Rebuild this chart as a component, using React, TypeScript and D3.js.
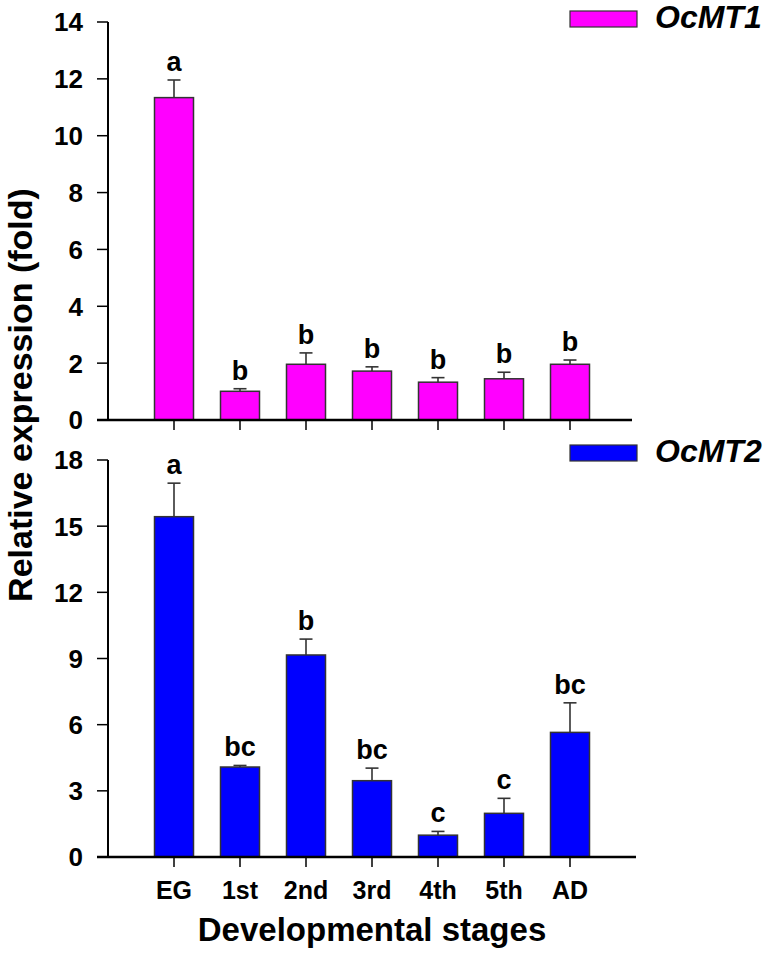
import React from "react";
import * as d3 from "d3";

const categories = ["EG", "1st", "2nd", "3rd", "4th", "5th", "AD"];
const mt1Values = [11.34, 1.01, 1.96, 1.72, 1.33, 1.45, 1.96];
const mt1Errors = [0.62, 0.09, 0.4, 0.15, 0.16, 0.23, 0.15];
const mt1Letters = ["a", "b", "b", "b", "b", "b", "b"];
const mt2Values = [15.43, 4.08, 9.16, 3.46, 0.99, 1.98, 5.65];
const mt2Errors = [1.52, 0.07, 0.72, 0.57, 0.17, 0.68, 1.34];
const mt2Letters = ["a", "bc", "b", "bc", "c", "c", "bc"];
const mt1Ticks = [0, 2, 4, 6, 8, 10, 12, 14];
const mt2Ticks = [0, 3, 6, 9, 12, 15, 18];

const FONT = "Liberation Sans, Arial, Helvetica, sans-serif";

const x = d3.scalePoint<string>().domain(categories).range([108, 636]).padding(1);
const yTop = d3.scaleLinear().domain([0, 14]).range([420, 22]);
const yBot = d3.scaleLinear().domain([0, 18]).range([857, 460]);

const BAR_W = 39;

function Panel({
  y,
  values,
  errors,
  letters,
  ticks,
  color,
  axisEnd,
  legendName,
  legendY,
}: {
  y: d3.ScaleLinear<number, number>;
  values: number[];
  errors: number[];
  letters: string[];
  ticks: number[];
  color: string;
  axisEnd: number;
  legendName: string;
  legendY: number;
}) {
  const y0 = y(0);
  const yMax = y(ticks[ticks.length - 1]);
  return (
    <g>
      {categories.map((c, i) => {
        const cx = x(c)!;
        const top = y(values[i]);
        const errTop = y(values[i] + errors[i]);
        return (
          <g key={c}>
            <line x1={cx} x2={cx} y1={top} y2={errTop} stroke="#333" strokeWidth={1.6} />
            <line x1={cx - 6.5} x2={cx + 6.5} y1={errTop} y2={errTop} stroke="#333" strokeWidth={1.6} />
            <rect
              x={cx - BAR_W / 2}
              y={top}
              width={BAR_W}
              height={y0 - top}
              fill={color}
              stroke="#333"
              strokeWidth={1.5}
            />
            <text
              x={cx}
              y={errTop - 9}
              textAnchor="middle"
              fontFamily={FONT}
              fontWeight="bold"
              fontSize={27}
              fill="#000"
            >
              {letters[i]}
            </text>
            <line x1={cx} x2={cx} y1={y0} y2={y0 + 10} stroke="#000" strokeWidth={1.5} />
          </g>
        );
      })}
      <line x1={108} x2={108} y1={yMax} y2={y0} stroke="#000" strokeWidth={2} />
      {ticks.map((t) => (
        <g key={t}>
          <line x1={97} x2={108} y1={y(t)} y2={y(t)} stroke="#000" strokeWidth={1.5} />
          <text
            x={83}
            y={y(t)}
            dy="0.36em"
            textAnchor="end"
            fontFamily={FONT}
            fontWeight="bold"
            fontSize={26}
            fill="#000"
          >
            {t}
          </text>
        </g>
      ))}
      <line x1={97} x2={axisEnd} y1={y0} y2={y0} stroke="#000" strokeWidth={2.5} />
      <rect x={570} y={legendY} width={67} height={16} fill={color} stroke="#333" strokeWidth={1.2} />
      <text
        x={655}
        y={legendY + 17}
        fontFamily={FONT}
        fontWeight="bold"
        fontStyle="italic"
        fontSize={32}
        fill="#000"
      >
        {legendName}
      </text>
    </g>
  );
}

export default function App() {
  return (
    <svg width={763} height={958} style={{ display: "block", position: "absolute", left: 0, top: 0, background: "#fff" }}>
      <rect x={0} y={0} width={763} height={958} fill="#fff" />
      <Panel
        y={yTop}
        values={mt1Values}
        errors={mt1Errors}
        letters={mt1Letters}
        ticks={mt1Ticks}
        color="#FF00FF"
        axisEnd={632}
        legendName="OcMT1"
        legendY={11}
      />
      <Panel
        y={yBot}
        values={mt2Values}
        errors={mt2Errors}
        letters={mt2Letters}
        ticks={mt2Ticks}
        color="#0000FF"
        axisEnd={636}
        legendName="OcMT2"
        legendY={445}
      />
      {categories.map((c) => (
        <text
          key={c}
          x={x(c)!}
          y={899}
          textAnchor="middle"
          fontFamily={FONT}
          fontWeight="bold"
          fontSize={25}
          fill="#000"
        >
          {c}
        </text>
      ))}
      <text
        x={372}
        y={941}
        textAnchor="middle"
        fontFamily={FONT}
        fontWeight="bold"
        fontSize={33}
        fill="#000"
      >
        Developmental stages
      </text>
      <text
        transform="translate(32,395) rotate(-90)"
        textAnchor="middle"
        fontFamily={FONT}
        fontWeight="bold"
        fontSize={34}
        fill="#000"
      >
        Relative expression (fold)
      </text>
    </svg>
  );
}
